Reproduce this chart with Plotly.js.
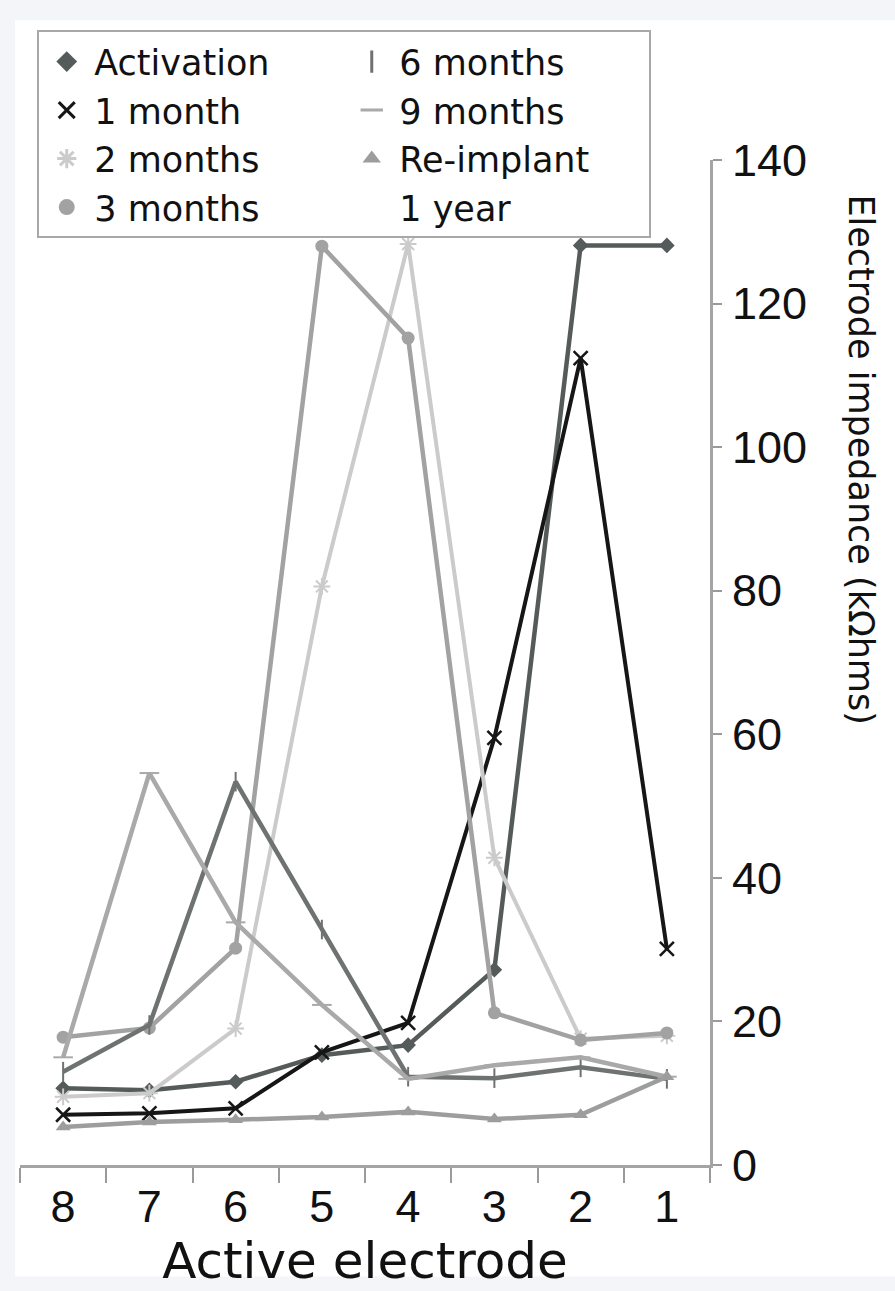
<!DOCTYPE html>
<html>
<head>
<meta charset="utf-8">
<script src="https://cdn.plot.ly/plotly-3.0.1.min.js"></script>
<style>
  html, body { margin: 0; padding: 0; background: #f3f5f8; }
  #chart { width: 895px; height: 1291px; }
</style>
</head>
<body>
<div id="chart"></div>
<script>
// Active electrode categories (x axis, reversed order as in the reference)
const electrodes = ['8', '7', '6', '5', '4', '3', '2', '1'];

// Electrode impedance (kOhms), one value per electrode 8..1
const activation = [10.7, 10.4, 11.6, 15.3, 16.7, 27.2, 128.1, 128.1];
const month1     = [7.0, 7.2, 7.9, 15.7, 19.8, 59.5, 112.4, 30.1];
const months2    = [9.5, 10.0, 19.0, 80.6, 128.3, 42.8, 17.6, 18.0];
const months3    = [17.8, 19.1, 30.2, 128.0, 115.2, 21.2, 17.4, 18.4];
const months6    = [13.0, 19.5, 53.4, 32.8, 12.3, 12.1, 13.6, 12.0];
const months9    = [15.0, 54.6, 33.8, 22.3, 12.0, 13.9, 15.0, 12.3];
const reimplant  = [5.3, 6.0, 6.3, 6.7, 7.4, 6.4, 7.0, 12.3];
const year1      = [];   // no visible points for "1 year" in the reference

const seriesNames = ['Activation', '1 month', '2 months', '3 months', '6 months', '9 months', 'Re-implant', '1 year'];

const styles = {
  'Activation': {color: '#555b5b', symbol: 'diamond', size: 12, lw: 4.5, mlw: 0, legendRank: 1},
  '1 month':    {color: '#161616', symbol: 'x-thin-open', size: 14, lw: 4, mlw: 2.5, legendRank: 3},
  '2 months':   {color: '#cbcbcb', symbol: 'asterisk-open', size: 14, lw: 4, mlw: 2, legendRank: 5},
  '3 months':   {color: '#a2a2a2', symbol: 'circle', size: 13, lw: 4.5, mlw: 0, legendRank: 7},
  '6 months':   {color: '#6f7272', symbol: 'line-ns-open', size: 14, lw: 4.5, mlw: 2, legendRank: 2},
  '9 months':   {color: '#a9a9a9', symbol: 'line-ew-open', size: 14, lw: 4.5, mlw: 2, legendRank: 4},
  'Re-implant': {color: '#9d9d9d', symbol: 'triangle-up', size: 13, lw: 4.5, mlw: 0, legendRank: 6},
  '1 year':     {color: 'rgba(0,0,0,0)', symbol: 'circle', size: 1, lw: 0, mlw: 0, legendRank: 8}
};

const values = {
  'Activation': activation, '1 month': month1, '2 months': months2, '3 months': months3,
  '6 months': months6, '9 months': months9, 'Re-implant': reimplant, '1 year': year1
};

const traces = [];
// data traces (lines + markers), legend hidden
seriesNames.forEach(function (name) {
  const s = styles[name];
  const y = values[name];
  if (y.length) {
    traces.push({
      type: 'scatter',
      mode: 'lines+markers',
      name: name,
      legendgroup: name,
      showlegend: false,
      x: electrodes.slice(0, y.length),
      y: y,
      line: {color: s.color, width: s.lw},
      marker: {color: s.color, symbol: s.symbol, size: s.size, line: {color: s.color, width: s.mlw}},
      hovertemplate: name + '<br>Electrode %{x}: %{y} kΩ<extra></extra>'
    });
  }
});
// legend entries (markers only, as in the reference legend)
seriesNames.forEach(function (name) {
  const s = styles[name];
  traces.push({
    type: 'scatter',
    mode: 'markers',
    name: name,
    legendgroup: name,
    legendrank: s.legendRank,
    showlegend: true,
    x: [null],
    y: [null],
    hoverinfo: 'skip',
    marker: {color: s.color, symbol: s.symbol, size: 16, line: {color: s.color, width: s.mlw ? 3 : 0}}
  });
});

const tickFont = {family: '"Liberation Sans Narrow", "Liberation Sans", Arial, sans-serif', size: 45, color: '#111'};
const textFont = '"DejaVu Sans", "Noto Sans", sans-serif';

const layout = {
  width: 895,
  height: 1291,
  paper_bgcolor: '#f3f5f8',
  plot_bgcolor: '#ffffff',
  margin: {l: 20, r: 185, t: 160, b: 126, pad: 0},
  showlegend: true,
  legend: {
    orientation: 'h',
    x: 0.025, xanchor: 'left',
    y: 1.129, yanchor: 'top',
    bgcolor: '#ffffff',
    bordercolor: '#a8a8a8',
    borderwidth: 2,
    font: {family: textFont, size: 35, color: '#111'},
    itemwidth: 45,
    entrywidth: 245,
    entrywidthmode: 'pixels',
    traceorder: 'normal',
    itemclick: 'toggle'
  },
  xaxis: {
    type: 'category',
    categoryorder: 'array',
    categoryarray: electrodes,
    range: [-0.5, 7.5],
    tickson: 'boundaries',
    ticks: 'outside',
    ticklen: 15,
    tickwidth: 2,
    tickcolor: '#9a9a9a',
    showline: true,
    linecolor: '#a4a4a4',
    linewidth: 3,
    showgrid: false,
    zeroline: false,
    tickfont: tickFont,
    title: {text: 'Active electrode', font: {family: textFont, size: 50, color: '#111'}, standoff: 2}
  },
  yaxis: {
    side: 'right',
    range: [0, 140],
    tick0: 0,
    dtick: 20,
    ticks: 'outside',
    ticklen: 9,
    tickwidth: 2,
    tickcolor: '#9a9a9a',
    showline: true,
    linecolor: '#a4a4a4',
    linewidth: 3,
    showgrid: false,
    zeroline: false,
    tickfont: tickFont,
    ticklabelstandoff: 1
  },
  shapes: [{
    type: 'rect', xref: 'paper', yref: 'paper', layer: 'below',
    x0: -0.0073, x1: 1.27, y0: -0.111, y1: 1.139,
    fillcolor: '#ffffff', line: {width: 0}
  }],
  annotations: [{
    text: 'Electrode impedance (kΩhms)',
    xref: 'paper', yref: 'paper',
    x: 1.2175, y: 0.702,
    xanchor: 'center', yanchor: 'middle',
    textangle: 90,
    showarrow: false,
    font: {family: textFont, size: 35, color: '#111'}
  }]
};

Plotly.newPlot('chart', traces, layout, {displayModeBar: false, responsive: false});
</script>
</body>
</html>
